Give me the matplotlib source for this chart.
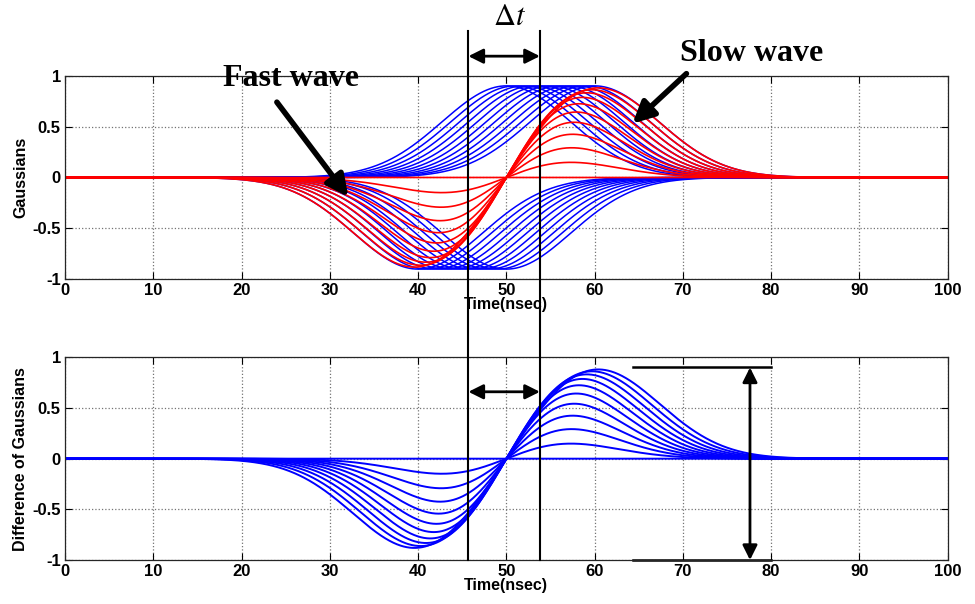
import numpy as np
import matplotlib.pyplot as plt
from matplotlib.transforms import blended_transform_factory

# gaussian pulse parameters
amplitude = 0.9
sigma = 7.3           # nsec
center = 50           # nsec
delays = [0, 1, 2, 3, 4, 5, 6, 7, 8, 9, 10]   # half separation of the pulse pair, nsec

x_ticks = [0, 10, 20, 30, 40, 50, 60, 70, 80, 90, 100]
y_ticks = [-1, -0.5, 0, 0.5, 1]
y_ticklabels = ['-1', '-0.5', '0', '0.5', '1']

# delta-t markers and peak-to-peak marker
dt_left, dt_right = 45.7, 53.8
pp_x0, pp_x1, pp_arrow_x = 64.3, 80.0, 77.6
pp_top, pp_bottom = 0.9, -1.0

t = np.linspace(0, 100, 2001)


def gauss(c):
    return amplitude * np.exp(-(t - c) ** 2 / (2 * sigma ** 2))


plt.rcParams['font.family'] = 'Liberation Sans'
plt.rcParams['mathtext.fontset'] = 'stix'

fig = plt.figure(figsize=(9.75, 6.04), dpi=100)
ax1 = fig.add_axes([0.0667, 0.5376, 0.9053, 0.3371])
ax2 = fig.add_axes([0.0667, 0.0728, 0.9053, 0.3356])

# top: the pulses and their difference
for d in delays:
    ax1.plot(t, gauss(center + d), color='b', lw=1.1)
    ax1.plot(t, -gauss(center - d), color='b', lw=1.1)
for d in delays:
    ax1.plot(t, gauss(center + d) - gauss(center - d), color='r', lw=1.2)

# bottom: difference of gaussians
for d in delays:
    ax2.plot(t, gauss(center + d) - gauss(center - d), color='b', lw=1.4)

for ax, lab in [(ax1, 'Gaussians'), (ax2, 'Difference of Gaussians')]:
    ax.set_xlim(0, 100)
    ax.set_ylim(-1, 1)
    ax.set_xticks(x_ticks)
    ax.set_xticklabels([str(v) for v in x_ticks], fontweight='bold')
    ax.set_yticks(y_ticks)
    ax.set_yticklabels(y_ticklabels, fontweight='bold')
    ax.grid(True, linestyle=':', color='0.45', lw=0.9)
    ax.tick_params(direction='in', top=True, right=True, length=5,
                   labelsize=12, pad=3, width=0.8)
    for s in ax.spines.values():
        s.set_linewidth(0.9)
        s.set_color('0.15')
    ax.set_xlabel('Time(nsec)', fontsize=11.5, fontweight='bold', labelpad=-1)
    ax.set_ylabel(lab, fontsize=11.5, fontweight='bold', labelpad=3)

# delta-t lines spanning both panels
tr = blended_transform_factory(ax1.transData, fig.transFigure)
for xv in [dt_left, dt_right]:
    fig.add_artist(plt.Line2D([xv, xv], [0.0728, 0.9487], transform=tr,
                              color='k', lw=1.5))
arrow = dict(arrowstyle='<|-|>', color='k', lw=2, mutation_scale=22,
             shrinkA=0, shrinkB=0)
ax1.annotate('', xy=(dt_left, 0.907), xycoords=tr,
             xytext=(dt_right, 0.907), textcoords=tr, arrowprops=arrow)
fig.text(0.523, 0.972, r'$\Delta t$', fontsize=22, ha='center', va='center')

ax2.annotate('', xy=(dt_left, 0.66), xytext=(dt_right, 0.66), arrowprops=arrow)

# peak-to-peak marker
ax2.plot([pp_x0, pp_x1], [pp_top, pp_top], color='k', lw=1.8, clip_on=False)
ax2.plot([pp_x0, pp_x1], [pp_bottom, pp_bottom], color='k', lw=1.8, clip_on=False)
ax2.annotate('', xy=(pp_arrow_x, pp_top), xytext=(pp_arrow_x, pp_bottom),
             arrowprops=arrow)

# labels with arrows
big = dict(fontsize=23, fontweight='bold', family='Liberation Serif',
           ha='center', va='center')
ax1.annotate('', xy=(32.1, -0.19), xytext=(24.0, 0.74),
             arrowprops=dict(arrowstyle='-|>', color='k', lw=4,
                             mutation_scale=32, shrinkA=0, shrinkB=0))
ax1.text(25.6, 0.97, 'Fast wave', **big)
ax1.annotate('', xy=(64.3, 0.53), xytext=(70.4, 1.02),
             arrowprops=dict(arrowstyle='-|>', color='k', lw=4,
                             mutation_scale=32, shrinkA=0, shrinkB=0),
             annotation_clip=False)
ax1.text(77.8, 1.22, 'Slow wave', clip_on=False, **big)

fig.savefig('out.png', dpi=100)
